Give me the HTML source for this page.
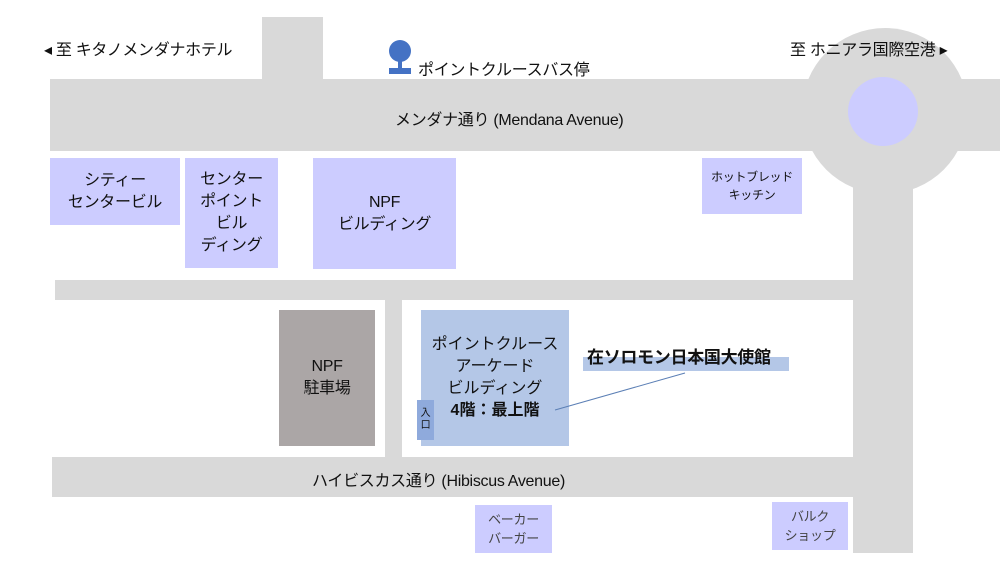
<!DOCTYPE html>
<html><head><meta charset="utf-8"><style>
body{margin:0;width:1000px;height:563px;background:#fff;position:relative;overflow:hidden;font-family:"Liberation Sans","Noto Sans CJK JP",sans-serif;color:#111}
div{position:absolute;box-sizing:border-box}
.r{background:#d9d9d9}
.b{background:#ccccff;display:flex;flex-direction:column;align-items:center;justify-content:center;text-align:center;font-size:16px;line-height:22px;white-space:nowrap;letter-spacing:-0.3px}
.b span{position:static;display:block}
.t{white-space:nowrap;letter-spacing:-0.3px}
</style></head><body>
<div class="r" style="left:262px;top:17px;width:61px;height:70px"></div>
<div class="r" style="left:802px;top:28px;width:166px;height:166px;border-radius:50%"></div>
<div class="r" style="left:50px;top:79px;width:950px;height:72px"></div>
<div class="r" style="left:853px;top:130px;width:60px;height:423px"></div>
<div style="left:848px;top:77px;width:70px;height:69px;border-radius:50%;background:#ccccff"></div>
<div class="r" style="left:55px;top:280px;width:800px;height:20px"></div>
<div class="r" style="left:385px;top:295px;width:17px;height:170px"></div>
<div class="r" style="left:52px;top:457px;width:805px;height:40px"></div>

<div class="t" style="left:44px;top:36px;font-size:16px">◂ 至 キタノメンダナホテル</div>
<div class="t" style="left:790px;top:36px;font-size:16px">至 ホニアラ国際空港 ▸</div>
<div style="left:389px;top:40px;width:22px;height:22px;border-radius:50%;background:#4472c4"></div>
<div style="left:398px;top:58px;width:4px;height:12px;background:#4472c4"></div>
<div style="left:389px;top:68px;width:22px;height:6px;background:#4472c4"></div>
<div class="t" style="left:418px;top:56px;font-size:16px">ポイントクルースバス停</div>
<div class="t" style="left:395px;top:106px;font-size:16px">メンダナ通り (Mendana Avenue)</div>

<div class="b" style="left:50px;top:158px;width:130px;height:67px"><span>シティー</span><span>センタービル</span></div>
<div class="b" style="left:185px;top:158px;width:93px;height:110px"><span>センター</span><span>ポイント</span><span>ビル</span><span>ディング</span></div>
<div class="b" style="left:313px;top:158px;width:143px;height:111px"><span>NPF</span><span>ビルディング</span></div>
<div class="b" style="left:702px;top:158px;width:100px;height:56px;font-size:12px;line-height:18px"><span>ホットブレッド</span><span>キッチン</span></div>

<div class="b" style="left:279px;top:310px;width:96px;height:136px;background:#aba6a6"><span>NPF</span><span>駐車場</span></div>
<div class="b" style="left:421px;top:310px;width:148px;height:136px;background:#b4c7e7;letter-spacing:0"><span>ポイントクルース</span><span>アーケード</span><span>ビルディング</span><span style="font-weight:bold">4階：最上階</span></div>
<div class="b" style="left:417px;top:400px;width:17px;height:40px;background:#8faadc;font-size:10px;line-height:12px"><span>入</span><span>口</span></div>
<div style="left:583px;top:357px;width:206px;height:14px;background:#b4c7e7"></div>
<div class="t" style="left:587px;top:343px;font-size:17px;font-weight:bold">在ソロモン日本国大使館</div>
<svg style="position:absolute;left:0;top:0" width="1000" height="563"><line x1="555" y1="410" x2="685" y2="373" stroke="#5b7fb5" stroke-width="1"/></svg>

<div class="t" style="left:312px;top:467px;font-size:16px">ハイビスカス通り (Hibiscus Avenue)</div>
<div class="b" style="left:475px;top:505px;width:77px;height:48px;font-size:13px;line-height:19px;color:#444"><span>ベーカー</span><span>バーガー</span></div>
<div class="b" style="left:772px;top:502px;width:76px;height:48px;font-size:13px;line-height:19px;color:#444"><span>バルク</span><span>ショップ</span></div>
</body></html>
